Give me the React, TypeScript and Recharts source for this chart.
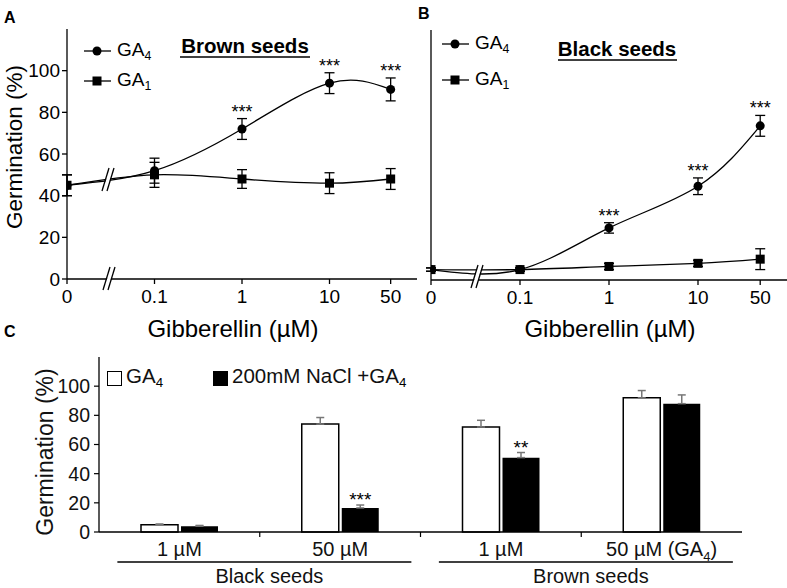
import {
  Bar,
  BarChart,
  ErrorBar,
  LabelList,
  Legend,
  Line,
  LineChart,
  XAxis,
  YAxis,
} from 'recharts';

const FONT = '"Liberation Sans", Arial, sans-serif';

// ---- panels A and B: germination vs gibberellin dose ----
const concentrations = [0, 0.1, 1, 10, 50];
const concLabels = ['0', '0.1', '1', '10', '50'];

const brownGa4 = [45, 52, 72, 94, 91];
const brownGa4Err = [5, 6, 5, 5, 5.5];
const brownGa1 = [45, 50, 48, 46, 48];
const brownGa1Err = [5, 6, 4.5, 5, 5];
const brownSig = ['', '', '***', '***', '***'];

const blackGa4 = [5, 5, 25, 45, 74];
const blackGa4Err = [0.8, 0.8, 2.5, 4, 5];
const blackGa1 = [5, 5, 6.5, 8, 10];
const blackGa1Err = [0.8, 0.8, 1.5, 1.5, 5];
const blackSig = ['', '', '***', '***', '***'];

// ---- panel C: salt stress ----
const saltCats = ['1 µM', '50 µM', '1 µM', '50 µM (GA4)'];
const saltGroups = ['Black seeds', 'Black seeds', 'Brown seeds', 'Brown seeds'];
const ga4Only = [5, 74, 72, 92];
const ga4OnlyErr = [0.5, 4.5, 4.6, 5];
const naclGa4 = [4, 16.5, 51, 88];
const naclGa4Err = [0.5, 2, 3.5, 6];
const saltSig = ['', '***', '**', ''];

const yTicks = [0, 20, 40, 60, 80, 100];
const Y_MAX = 120;
// the "0" dose sits one decade left of 0.1, behind the axis break
const ZERO_AT = 0.01;
const X_MAX = 100;
const doseTicks = concentrations.map(c => (c === 0 ? ZERO_AT : c));

function buildRows(ga4: number[], ga4Err: number[], ga1: number[], ga1Err: number[], sig: string[]) {
  return concentrations.map((c, i) => ({
    dose: c === 0 ? ZERO_AT : c,
    ga4: ga4[i],
    ga4Err: ga4Err[i],
    ga1: ga1[i],
    ga1Err: ga1Err[i],
    sig: sig[i],
  }));
}

const brownRows = buildRows(brownGa4, brownGa4Err, brownGa1, brownGa1Err, brownSig);
const blackRows = buildRows(blackGa4, blackGa4Err, blackGa1, blackGa1Err, blackSig);

const saltRows = saltCats.map((c, i) => ({
  key: `c${i}`,
  ga4: ga4Only[i],
  ga4Range: [0, ga4OnlyErr[i]],
  nacl: naclGa4[i],
  naclRange: [0, naclGa4Err[i]],
  sig: saltSig[i],
}));

// legend keeps the order the series are declared in
const seriesOrder = ['ga4', 'ga1', 'nacl'];
const legendSorter = (item: any) => seriesOrder.indexOf(item.dataKey);

// split "GA4" style labels so the digit becomes a subscript
function subParts(text: string) {
  return text.match(/^(.*GA)(\d)(.*)$/);
}

function SvgSub({ text, size }: { text: string; size: number }) {
  const m = subParts(text);
  if (!m) return <>{text}</>;
  return (
    <>
      <tspan>{m[1]}</tspan>
      <tspan fontSize={size * 0.65} dy={size * 0.25}>{m[2]}</tspan>
      {m[3] ? <tspan dy={-size * 0.25}>{m[3]}</tspan> : null}
    </>
  );
}

function HtmlSub({ text }: { text: string }) {
  const m = subParts(text);
  if (!m) return <>{text}</>;
  return (
    <>
      {m[1]}
      <sub style={{ fontSize: '0.65em', verticalAlign: '-0.3em', color: '#000' }}>{m[2]}</sub>
      {m[3]}
    </>
  );
}

const SquareDot = (props: any) => {
  const { cx, cy, index } = props;
  if (cx == null || cy == null) return <g key={`sq-${index}`} />;
  return <rect key={`sq-${index}`} x={cx - 4.5} y={cy - 4.5} width={9} height={9} fill="#000" />;
};

function starContent(errs: number[], pxPerUnit: number) {
  return (props: any) => {
    const { x, y, value, index } = props;
    if (!value) return null;
    return (
      <text x={x} y={y - errs[index] * pxPerUnit - 1} textAnchor="middle" fontSize={18} fontFamily={FONT} fill="#000">
        {value}
      </text>
    );
  };
}

function DoseLegend({ payload, rowHeight }: any) {
  return (
    <div style={{ fontFamily: FONT, fontSize: 19, color: '#000', whiteSpace: 'nowrap' }}>
      {(payload || []).map((item: any) => (
        <div key={item.dataKey} style={{ display: 'flex', alignItems: 'center', height: rowHeight }}>
          <svg width={28} height={12} style={{ marginRight: 5 }}>
            <line x1={0} x2={27} y1={6} y2={6} stroke="#000" strokeWidth={1.3} />
            {item.dataKey === 'ga4' ? (
              <circle cx={13} cy={6} r={4.5} fill="#000" />
            ) : (
              <rect x={8.5} y={1.5} width={9} height={9} fill="#000" />
            )}
          </svg>
          <span style={{ lineHeight: 1, color: '#000' }}>
            <HtmlSub text={item.value} />
          </span>
        </div>
      ))}
    </div>
  );
}

interface DosePanelProps {
  rows: ReturnType<typeof buildRows>;
  ga4Err: number[];
  left: number;
  width: number;
  plotTop: number;
  plotBottom: number;
  yAxisWidth: number;
  rightGap: number;
  showYLabels: boolean;
  rightBorder: boolean;
  legendLeft: number;
  legendTop: number;
  legendRow: number;
}

function DosePanel(p: DosePanelProps) {
  const height = 340;
  const pxPerUnit = (p.plotBottom - p.plotTop) / Y_MAX;
  return (
    <div style={{ position: 'absolute', left: p.left, top: 0 }}>
      <LineChart
        width={p.width}
        height={height}
        data={p.rows}
        margin={{ top: p.plotTop, right: p.rightGap, bottom: 0, left: 0 }}
      >
        <XAxis
          dataKey="dose"
          type="number"
          scale="log"
          domain={[ZERO_AT, X_MAX]}
          ticks={doseTicks}
          interval={0}
          allowDataOverflow
          tickFormatter={(_v: number, i: number) => concLabels[i]}
          height={height - p.plotBottom}
          tick={{ fontSize: 19, fill: '#000', fontFamily: FONT }}
          tickLine={{ stroke: '#000', strokeWidth: 1.3 }}
          axisLine={{ stroke: '#000', strokeWidth: 1.3 }}
          tickSize={5}
          tickMargin={6}
        />
        <XAxis
          xAxisId="top"
          orientation="top"
          dataKey="dose"
          type="number"
          scale="log"
          domain={[ZERO_AT, X_MAX]}
          allowDataOverflow
          height={0}
          tick={false}
          tickLine={false}
          axisLine={{ stroke: '#000', strokeWidth: 1.3 }}
        />
        <YAxis
          domain={[0, Y_MAX]}
          ticks={yTicks}
          interval={0}
          width={p.yAxisWidth}
          tick={p.showYLabels ? { fontSize: 19, fill: '#000', fontFamily: FONT } : false}
          tickLine={{ stroke: '#000', strokeWidth: 1.3 }}
          axisLine={{ stroke: '#000', strokeWidth: 1.3 }}
          tickSize={5}
          tickMargin={2}
        />
        {p.rightBorder && (
          <YAxis
            yAxisId="right"
            orientation="right"
            domain={[0, Y_MAX]}
            width={0}
            tick={false}
            tickLine={false}
            axisLine={{ stroke: '#000', strokeWidth: 1.3 }}
          />
        )}
        <Legend
          layout="vertical"
          align="center"
          verticalAlign="middle"
          itemSorter={legendSorter}
          wrapperStyle={{ left: p.legendLeft, top: p.legendTop, width: 120 }}
          content={(props: any) => <DoseLegend {...props} rowHeight={p.legendRow} />}
        />
        <Line
          dataKey="ga4"
          name="GA4"
          type="natural"
          stroke="#000"
          strokeWidth={1.3}
          dot={{ r: 4.5, fill: '#000', stroke: '#000', strokeWidth: 0 }}
          activeDot={false}
          isAnimationActive={false}
        >
          <ErrorBar dataKey="ga4Err" direction="y" width={5} stroke="#000" strokeWidth={1.3} />
          <LabelList dataKey="sig" content={starContent(p.ga4Err, pxPerUnit)} />
        </Line>
        <Line
          dataKey="ga1"
          name="GA1"
          type="natural"
          stroke="#000"
          strokeWidth={1.3}
          dot={SquareDot}
          activeDot={false}
          isAnimationActive={false}
        >
          <ErrorBar dataKey="ga1Err" direction="y" width={5} stroke="#000" strokeWidth={1.3} />
        </Line>
      </LineChart>
    </div>
  );
}

// panel C geometry
const C_TOP = 340;
const C_PLOT_LEFT = 99;
const C_PLOT_RIGHT = 742;
const C_PLOT_TOP = 357;
const C_PLOT_BOTTOM = 532;
const C_BAND = (C_PLOT_RIGHT - C_PLOT_LEFT) / saltCats.length;
const C_PX = (C_PLOT_BOTTOM - C_PLOT_TOP) / Y_MAX;
const C_FONT = 20;

function SaltTick(props: any) {
  const { x, y, index } = props;
  const group = saltGroups[index];
  const startsGroup = index === 0 || saltGroups[index - 1] !== group;
  return (
    <g>
      {index < saltCats.length - 1 && (
        <line x1={x + C_BAND / 2} x2={x + C_BAND / 2} y1={y} y2={y + 5} stroke="#000" strokeWidth={1.2} />
      )}
      <text x={x} y={y + 24} textAnchor="middle" fontSize={C_FONT} fontFamily={FONT} fill="#111">
        <SvgSub text={saltCats[index]} size={C_FONT} />
      </text>
      {startsGroup && (
        <g>
          <line x1={x - 62} x2={x + 232} y1={y + 30} y2={y + 30} stroke="#000" strokeWidth={1.5} />
          <text x={x + 90} y={y + 51} textAnchor="middle" fontSize={C_FONT} fontFamily={FONT} fill="#111">
            {group}
          </text>
        </g>
      )}
    </g>
  );
}

function SaltLegend({ payload }: any) {
  return (
    <div style={{ display: 'flex', fontFamily: FONT, fontSize: 20.5, color: '#111', whiteSpace: 'nowrap' }}>
      {(payload || []).map((item: any, i: number) => (
        <div key={item.dataKey} style={{ display: 'flex', alignItems: 'center', height: 20, width: i === 0 ? 106 : 'auto' }}>
          <span
            style={{
              display: 'inline-block',
              width: 13,
              height: 13,
              border: '1.5px solid #000',
              background: item.dataKey === 'ga4' ? '#fff' : '#000',
              marginRight: 4,
            }}
          />
          <span style={{ lineHeight: 1, color: '#111' }}>
            <HtmlSub text={item.value} />
          </span>
        </div>
      ))}
    </div>
  );
}

function saltStar(props: any) {
  const { x, y, width, value, index } = props;
  if (!value) return null;
  return (
    <text x={x + width / 2} y={y - naclGa4Err[index] * C_PX + 1} textAnchor="middle" fontSize={19} fontFamily={FONT} fill="#000">
      {value}
    </text>
  );
}

function SaltPanel() {
  const height = 588 - C_TOP;
  return (
    <div style={{ position: 'absolute', left: 0, top: C_TOP }}>
      <BarChart
        width={787}
        height={height}
        data={saltRows}
        margin={{ top: C_PLOT_TOP - C_TOP, right: 787 - C_PLOT_RIGHT, bottom: 0, left: 0 }}
        barGap={3}
        barCategoryGap={42}
      >
        <XAxis
          dataKey="key"
          height={588 - C_PLOT_BOTTOM}
          interval={0}
          tick={<SaltTick />}
          tickLine={false}
          tickSize={0}
          tickMargin={0}
          axisLine={{ stroke: '#000', strokeWidth: 1.3 }}
        />
        <XAxis
          xAxisId="top"
          orientation="top"
          dataKey="key"
          height={0}
          tick={false}
          tickLine={false}
          axisLine={{ stroke: '#888', strokeWidth: 1.5 }}
        />
        <YAxis
          domain={[0, Y_MAX]}
          ticks={yTicks}
          interval={0}
          width={C_PLOT_LEFT}
          tick={{ fontSize: 19.5, fill: '#111', fontFamily: FONT }}
          tickLine={{ stroke: '#000', strokeWidth: 1.2 }}
          axisLine={{ stroke: '#000', strokeWidth: 1.3 }}
          tickSize={5}
          tickMargin={4}
        />
        <YAxis
          yAxisId="right"
          orientation="right"
          domain={[0, Y_MAX]}
          width={0}
          tick={false}
          tickLine={false}
          axisLine={{ stroke: '#888', strokeWidth: 1.5 }}
        />
        <Legend
          layout="vertical"
          align="center"
          verticalAlign="middle"
          itemSorter={legendSorter}
          wrapperStyle={{ left: 107, top: 28, width: 400 }}
          content={(props: any) => <SaltLegend {...props} />}
        />
        <Bar dataKey="ga4" name="GA4" fill="#fff" stroke="#000" strokeWidth={1.5} isAnimationActive={false}>
          <ErrorBar dataKey="ga4Range" width={4} stroke="#777" strokeWidth={1.5} />
        </Bar>
        <Bar dataKey="nacl" name="200mM NaCl +GA4" fill="#000" isAnimationActive={false}>
          <ErrorBar dataKey="naclRange" width={4} stroke="#777" strokeWidth={1.5} />
          <LabelList dataKey="sig" content={saltStar} />
        </Bar>
      </BarChart>
    </div>
  );
}

// "//" axis break marks
function BreakMark({ x, y }: { x: number; y: number }) {
  // x, y = lower end of the first slash
  return (
    <g>
      <polygon points={`${x + 1},${y} ${x + 7},${y - 22} ${x + 11},${y - 22} ${x + 5},${y}`} fill="#fff" />
      <line x1={x} y1={y} x2={x + 7} y2={y - 23} stroke="#000" strokeWidth={1.3} />
      <line x1={x + 5} y1={y} x2={x + 12} y2={y - 23} stroke="#000" strokeWidth={1.3} />
    </g>
  );
}

export default function App() {
  return (
    <div style={{ position: 'absolute', left: 0, top: 0, width: 787, height: 588, background: '#fff', overflow: 'hidden' }}>
      <DosePanel
        rows={brownRows}
        ga4Err={brownGa4Err}
        left={0}
        width={430}
        plotTop={29}
        plotBottom={279}
        yAxisWidth={67}
        rightGap={13}
        showYLabels
        rightBorder
        legendLeft={84}
        legendTop={36}
        legendRow={30}
      />
      <DosePanel
        rows={blackRows}
        ga4Err={blackGa4Err}
        left={400}
        width={387}
        plotTop={30}
        plotBottom={280}
        yAxisWidth={31}
        rightGap={0}
        showYLabels={false}
        rightBorder={false}
        legendLeft={42}
        legendTop={26}
        legendRow={36}
      />
      <SaltPanel />
      <svg
        width={787}
        height={588}
        style={{ position: 'absolute', left: 0, top: 0, pointerEvents: 'none' }}
        fontFamily={FONT}
      >
        <text x={4} y={23} fontSize={16} fontWeight="bold">A</text>
        <text x={418} y={19} fontSize={16} fontWeight="bold">B</text>
        <text x={4} y={337} fontSize={16} fontWeight="bold">C</text>

        <text x={245} y={53} fontSize={20.5} fontWeight="bold" textAnchor="middle">Brown seeds</text>
        <line x1={180} x2={310} y1={57} y2={57} stroke="#000" strokeWidth={1.5} />
        <text x={617} y={56} fontSize={20.5} fontWeight="bold" textAnchor="middle">Black seeds</text>
        <line x1={558} x2={677} y1={60} y2={60} stroke="#000" strokeWidth={1.5} />

        <text x={22} y={147} fontSize={22.5} textAnchor="middle" transform="rotate(-90 22 147)">Germination (%)</text>
        <text x={233} y={337} fontSize={24} textAnchor="middle">Gibberellin (µM)</text>
        <text x={610} y={337} fontSize={24} textAnchor="middle">Gibberellin (µM)</text>

        <text
          x={53}
          y={452}
          fontSize={23}
          textAnchor="middle"
          fill="#111"
          transform="rotate(-90 53 452)"
        >
          Germination (%)
        </text>

        <BreakMark x={103} y={290} />
        <BreakMark x={102} y={191} />
        <BreakMark x={471} y={288} />
      </svg>
    </div>
  );
}
